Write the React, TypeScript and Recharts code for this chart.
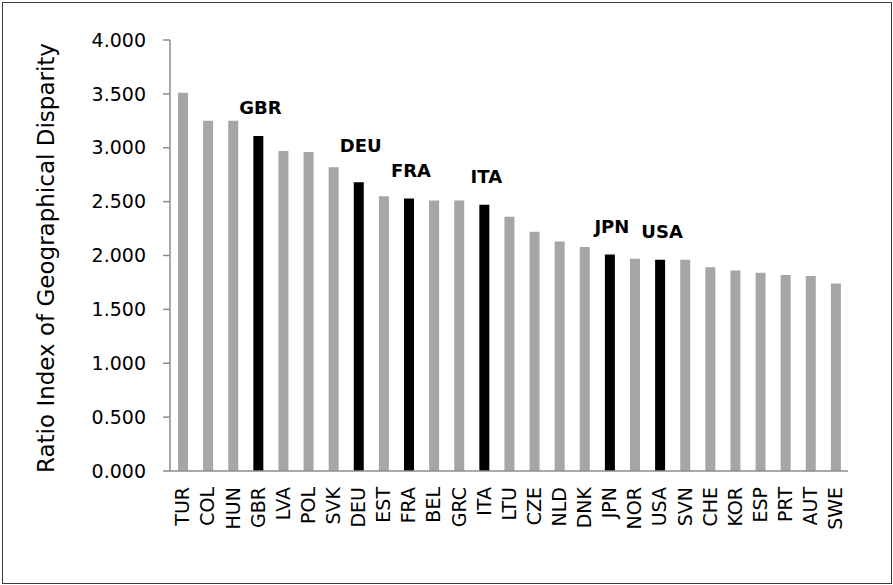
import React from 'react';
import { BarChart, Bar, XAxis, YAxis, Cell, LabelList, Label } from 'recharts';

const countries = [
  'TUR', 'COL', 'HUN', 'GBR', 'LVA', 'POL', 'SVK', 'DEU', 'EST', 'FRA', 'BEL', 'GRC', 'ITA', 'LTU',
  'CZE', 'NLD', 'DNK', 'JPN', 'NOR', 'USA', 'SVN', 'CHE', 'KOR', 'ESP', 'PRT', 'AUT', 'SWE',
];
const ratioValues = [
  3.51, 3.25, 3.25, 3.11, 2.97, 2.96, 2.82, 2.68, 2.55, 2.53, 2.51, 2.51, 2.47, 2.36,
  2.22, 2.13, 2.08, 2.01, 1.97, 1.96, 1.96, 1.89, 1.86, 1.84, 1.82, 1.81, 1.74,
];
const highlighted = ['GBR', 'DEU', 'FRA', 'ITA', 'JPN', 'USA'];
const yTicks = [0, 0.5, 1, 1.5, 2, 2.5, 3, 3.5, 4];
const yAxisTitle = 'Ratio Index of Geographical Disparity';

const data = countries.map((name, i) => ({ name, value: ratioValues[i] }));

const FONT = '"DejaVu Sans", sans-serif';
const GREY = '#a6a6a6';
const BLACK = '#000000';
const AXIS = '#8c8c8c';
const labelLift: Record<string, number> = { DEU: 37 };

const renderLabel = (props: any) => {
  const { x, y, width, value } = props;
  if (!highlighted.includes(value)) return null;
  const lift = labelLift[value] ?? 28;
  return (
    <text
      x={Number(x) + Number(width) / 2 + 2}
      y={Number(y) - lift}
      dy="0.36em"
      textAnchor="middle"
      fontFamily={FONT}
      fontWeight="bold"
      fontSize={18}
      fill="#000"
    >
      {value}
    </text>
  );
};

const XTick = (props: any) => {
  const { x, y, payload } = props;
  return (
    <text
      x={x}
      y={y}
      transform={`rotate(-90, ${x}, ${y})`}
      textAnchor="end"
      dy="0.36em"
      fontFamily={FONT}
      fontSize={19}
      fill="#000"
    >
      {payload.value}
    </text>
  );
};

const YTitle = () => (
  <text
    x={54}
    y={258}
    transform="rotate(-90, 54, 258)"
    textAnchor="middle"
    fontFamily={FONT}
    fontSize={23}
    fill="#000"
  >
    {yAxisTitle}
  </text>
);

export default function App() {
  return (
    <div style={{ position: 'absolute', left: 0, top: 0, width: 893, height: 585, background: '#fff' }}>
      <div
        style={{
          position: 'absolute',
          left: 2,
          top: 2,
          width: 890,
          height: 582,
          boxSizing: 'border-box',
          border: '1.5px solid #3a3a3a',
        }}
      />
      <div style={{ position: 'absolute', left: 0, top: 0 }}>
        <BarChart
          width={893}
          height={585}
          data={data}
          margin={{ top: 40, right: 45, left: 0, bottom: 0 }}
        >
          <XAxis
            dataKey="name"
            interval={0}
            height={114}
            tickLine={false}
            tickSize={0}
            tickMargin={16}
            axisLine={{ stroke: AXIS, strokeWidth: 1.5 }}
            tick={<XTick />}
          />
          <YAxis
            width={170}
            domain={[0, 4]}
            ticks={yTicks}
            interval={0}
            tickSize={7}
            tickMargin={17}
            tickFormatter={(v: number) => v.toFixed(3)}
            axisLine={{ stroke: AXIS, strokeWidth: 1.5 }}
            tickLine={{ stroke: AXIS, strokeWidth: 1.5 }}
            tick={{ fontFamily: FONT, fontSize: 19, fill: '#000' }}
          >
            <Label content={<YTitle />} />
          </YAxis>
          <Bar dataKey="value" barSize={10} isAnimationActive={false}>
            {data.map((d) => (
              <Cell key={d.name} fill={highlighted.includes(d.name) ? BLACK : GREY} />
            ))}
            <LabelList dataKey="name" content={renderLabel} />
          </Bar>
        </BarChart>
      </div>
    </div>
  );
}
